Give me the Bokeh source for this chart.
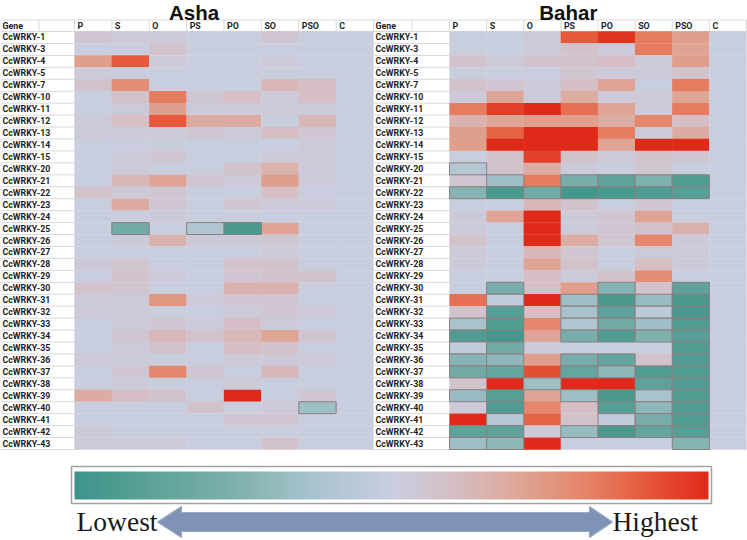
import numpy as np
from bokeh.plotting import figure
from bokeh.models import Range1d, ColumnDataSource, LinearColorMapper
from bokeh.core.properties import value
from bokeh.embed import file_html
from bokeh.resources import INLINE

# ---------------- data ----------------
genes = ["CcWRKY-1", "CcWRKY-3", "CcWRKY-4", "CcWRKY-5", "CcWRKY-7", "CcWRKY-10",
         "CcWRKY-11", "CcWRKY-12", "CcWRKY-13", "CcWRKY-14", "CcWRKY-15", "CcWRKY-20",
         "CcWRKY-21", "CcWRKY-22", "CcWRKY-23", "CcWRKY-24", "CcWRKY-25", "CcWRKY-26",
         "CcWRKY-27", "CcWRKY-28", "CcWRKY-29", "CcWRKY-30", "CcWRKY-31", "CcWRKY-32",
         "CcWRKY-33", "CcWRKY-34", "CcWRKY-35", "CcWRKY-36", "CcWRKY-37", "CcWRKY-38",
         "CcWRKY-39", "CcWRKY-40", "CcWRKY-41", "CcWRKY-42", "CcWRKY-43"]
conditions = ["P", "S", "O", "PS", "PO", "SO", "PSO", "C"]
gene_header = "Gene"
panel_titles = ["Asha", "Bahar"]
legend_low = "Lowest"
legend_high = "Highest"

# relative expression (-1 lowest ... +1 highest), one list per condition
asha_P = [.1, 0, .45, .05, .15, 0, 0, .05, .05, 0, 0, 0, 0, .15, 0, 0, 0, 0, 0, .05, 0, .15, .05, .05, 0, 0, 0, .05, 0, 0, .35, 0, 0, .05, .05]
asha_S = [.05, 0, .8, 0, .55, .15, .05, .2, .05, 0, .05, .05, .25, .05, .35, 0, -.6, .05, 0, .1, .15, .1, .05, .05, .05, .1, .05, .05, .1, .05, .2, 0, 0, 0, .05]
asha_O = [.05, .15, .05, 0, 0, .65, .45, .8, .05, 0, .1, 0, .4, .1, .1, .05, 0, .3, 0, 0, .05, 0, .5, 0, .1, .25, .15, 0, .6, 0, .15, 0, 0, 0, .05]
asha_PS = [0, 0, 0, 0, 0, .1, .05, .35, .1, 0, 0, 0, .1, 0, 0, 0, -.2, .05, 0, 0, 0, 0, .05, 0, .05, .15, 0, 0, .1, 0, 0, .15, 0, 0, 0]
asha_PO = [0, 0, 0, 0, 0, .2, .05, .35, .05, 0, 0, .15, .05, 0, .1, 0, -.9, .05, 0, .15, .1, .3, .1, .05, .2, .25, .2, .05, 0, .05, 1.0, 0, .1, 0, 0]
asha_SO = [.1, 0, .05, 0, .25, .05, .05, 0, .2, 0, .05, .3, .45, .2, .05, 0, .4, .1, .05, .15, .15, .3, .1, .1, .05, .4, .15, .05, .25, 0, 0, .05, .1, 0, .15]
asha_PSO = [0, 0, 0, 0, .2, .2, .05, .25, .1, .05, .05, .05, .05, 0, .05, 0, 0, 0, 0, 0, .15, 0, 0, .05, 0, .1, 0, .05, 0, 0, .1, -.3, 0, 0, 0]
asha_C = [0] * 35

bahar_P = [0, 0, .15, 0, .15, .05, .65, .3, .45, .45, 0, -.15, .1, -.45, 0, .05, .05, .15, .05, .05, 0, 0, .7, .15, -.25, -.85, -.05, -.45, -.6, .15, -.35, .05, 1, -.75, -.3]
bahar_S = [0, 0, .05, 0, .1, .4, .9, .4, .75, 1, .15, .15, -.3, -.9, 0, .4, 0, 0, 0, 0, 0, -.55, -.05, -.8, -.85, -.95, -.6, -.4, -.7, 1, -.8, -.85, -.15, -.75, -.4]
bahar_O = [.05, .05, .15, 0, .05, .05, 1, .45, 1, 1, .9, .35, .65, -.6, .25, 1, 1, 1, .25, .4, .2, .2, 1, .2, .6, .4, .05, .45, .85, -.3, .4, .6, .75, .05, 1]
bahar_PS = [.8, .15, .15, .1, .2, .35, .7, .45, 1, 1, .15, .05, -.55, -.95, .15, .05, .05, .35, .1, .15, .05, .45, -.3, -.25, -.2, -.55, 0, -.55, -.7, 1, -.3, .2, .15, -.35, 0]
bahar_PO = [.95, .05, .2, .05, .4, .05, .4, .35, .65, .4, .05, 0, -.75, -.9, 0, .1, .1, .1, 0, 0, .15, -.45, -.9, -.75, -.6, -.85, 0, -.7, -.4, 1, -.9, -.8, -.05, -.9, 0]
bahar_SO = [.65, .65, .05, .05, 0, .05, .05, .6, .05, 1, .15, .1, -.5, -.85, .1, .4, .15, .6, .05, .2, .55, .15, -.35, -.1, -.3, -.5, 0, .15, -.85, -.75, -.25, -.4, -.55, -.7, 0]
bahar_PSO = [.45, .4, .45, .15, .65, .4, .65, .2, .35, 1, .1, 0, -.85, -.8, 0, 0, .3, .05, .05, .05, 0, -.75, -.9, -.9, -.85, -.8, -.85, -.85, -.85, -.85, -.85, -.85, -.85, -.8, -.45]
bahar_C = [0] * 35

asha = [asha_P, asha_S, asha_O, asha_PS, asha_PO, asha_SO, asha_PSO, asha_C]
bahar = [bahar_P, bahar_S, bahar_O, bahar_PS, bahar_PO, bahar_SO, bahar_PSO, bahar_C]
for col in asha + bahar:
    assert len(col) == len(genes)

# ---------------- colours ----------------
anchor_pos = [-1, -.5, -.25, 0, .2, .4, .6, .8, 1]
anchor_rgb = [(61, 148, 136), (126, 176, 174), (168, 195, 204), (201, 206, 224),
              (213, 190, 196), (222, 166, 151), (228, 135, 108), (230, 90, 60), (223, 42, 25)]
tt = np.linspace(-1, 1, 256)
palette = ["#%02x%02x%02x" % tuple(int(round(np.interp(t, anchor_pos, [c[k] for c in anchor_rgb])))
                                   for k in range(3)) for t in tt]
mapper = LinearColorMapper(palette=palette, low=-1, high=1)

# ---------------- figure (coordinates in reference pixels, y measured downward) ----------------
W_REF, H_REF = 747, 540
p = figure(width=W_REF, height=H_REF, x_range=Range1d(0, W_REF), y_range=Range1d(0, H_REF),
           output_backend="svg", toolbar_location=None, min_border=0,
           x_axis_location=None, y_axis_location=None)
p.grid.visible = False
p.outline_line_color = None
p.background_fill_color = "white"
p.border_fill_color = "white"


def Y(v):
    return H_REF - v


HEAD_TOP = 19.5
ROW_TOP = 31.0
RH = (449.0 - ROW_TOP) / len(genes)
LABEL_FONT = value("Roboto")
LABEL_SIZE = "8.8px"
GRID_C = "#d9d9d9"

panels = [(panel_titles[0], 0.0, 74.0, 373.0, asha),
          (panel_titles[1], 373.0, 449.0, 746.0, bahar)]

for title, x0, cx0, cx1, data in panels:
    cw = (cx1 - cx0) / len(conditions)
    # grid of the label column
    ys = [Y(ROW_TOP + i * RH) for i in range(len(genes) + 1)]
    p.segment(x0=[x0] * len(ys), x1=[cx0] * len(ys), y0=ys, y1=ys, line_color=GRID_C, line_width=1)
    # header row lines
    p.segment(x0=[x0, x0], x1=[cx1, cx1], y0=[Y(HEAD_TOP), Y(ROW_TOP)], y1=[Y(HEAD_TOP), Y(ROW_TOP)],
              line_color=GRID_C, line_width=1)
    vx = [x0 + 38.5, cx0] + [cx0 + j * cw for j in range(1, len(conditions) + 1)]
    p.segment(x0=vx, x1=vx, y0=[Y(HEAD_TOP)] * len(vx), y1=[Y(ROW_TOP)] * len(vx),
              line_color=GRID_C, line_width=1)

    # cells
    xs, ysc, vs = [], [], []
    for j, col in enumerate(data):
        for i, v in enumerate(col):
            xs.append(cx0 + (j + 0.5) * cw)
            ysc.append(Y(ROW_TOP + (i + 0.5) * RH))
            vs.append(v)
    src = ColumnDataSource(dict(x=xs, y=ysc, v=vs))
    p.rect(x="x", y="y", width=cw + 0.3, height=RH + 0.3, source=src,
           fill_color={"field": "v", "transform": mapper}, line_color=None)
    neg = [k for k in range(len(vs)) if vs[k] < 0]
    src_neg = ColumnDataSource(dict(x=[xs[k] for k in neg], y=[ysc[k] for k in neg], v=[vs[k] for k in neg]))
    p.rect(x="x", y="y", width=cw, height=RH, source=src_neg,
           fill_color={"field": "v", "transform": mapper}, line_color="#8c7f7f", line_width=1)

    # texts
    p.text(x=[x0 + 2] * len(genes), y=[Y(ROW_TOP + (i + 0.5) * RH) for i in range(len(genes))],
           text=genes, text_font=LABEL_FONT, text_font_style="bold", text_font_size=LABEL_SIZE,
           text_color="#1e1e1e", text_baseline="middle", text_align="left")
    hx = [x0 + 2] + [cx0 + j * cw + 3 for j in range(len(conditions))]
    p.text(x=hx, y=[Y((HEAD_TOP + ROW_TOP) / 2)] * len(hx), text=[gene_header] + conditions,
           text_font=LABEL_FONT, text_font_style="bold", text_font_size=LABEL_SIZE,
           text_color="#1e1e1e", text_baseline="middle", text_align="left")
    p.text(x=[cx0 + (cx1 - cx0) * 0.4], y=[Y(11.8)], text=[title], text_font=value("Liberation Sans"),
           text_font_style="bold", text_font_size="20.5px", text_color="#111111",
           text_baseline="middle", text_align="center")

# ---------------- colour scale legend ----------------
p.quad(left=[71], right=[711], bottom=[Y(503)], top=[Y(466)], fill_color="white",
       line_color="#a3a3a3", line_width=1.5)
grad = np.linspace(-1, 1, 256).reshape(1, 256)
p.image(image=[grad], x=74, y=Y(499), dw=634, dh=28, color_mapper=mapper)

ax = [157, 181, 181, 589, 589, 612, 589, 589, 181, 181]
ay = [521.5, 506, 512, 512, 506, 521.5, 537, 531, 531, 537]
p.patch(x=ax, y=[Y(v) for v in ay], fill_color="#7e93b6", line_color="#9aa9c2", line_width=1.2)
p.text(x=[157], y=[Y(521)], text=[legend_low], text_font=value("Liberation Serif"),
       text_font_size="27.5px", text_color="#1a1a1a", text_baseline="middle", text_align="right")
p.text(x=[612], y=[Y(521)], text=[legend_high], text_font=value("Liberation Serif"),
       text_font_size="27.5px", text_color="#1a1a1a", text_baseline="middle", text_align="left")

open("out.html", "w").write(file_html(p, INLINE))
